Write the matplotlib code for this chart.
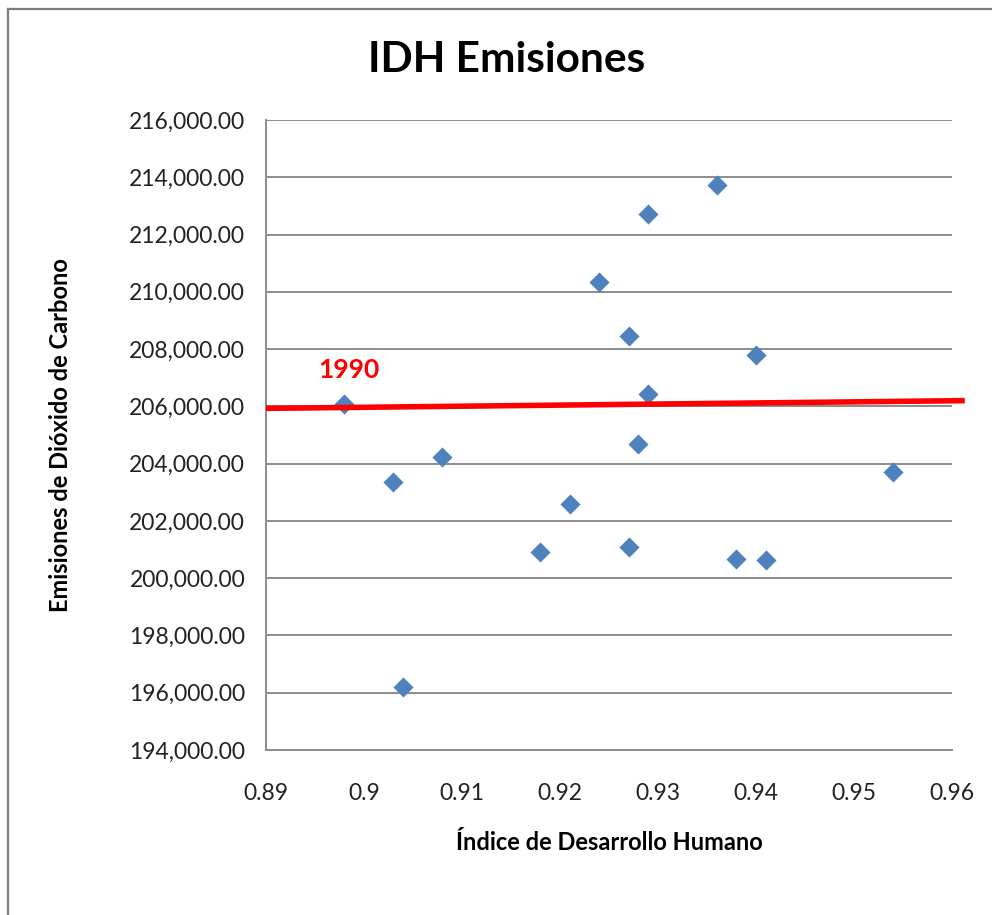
import matplotlib
matplotlib.use("Agg")
import matplotlib.pyplot as plt
from matplotlib.lines import Line2D

plt.rcParams['font.family'] = ['Lato', 'DejaVu Sans']

# --- Data ---
idh = [0.898, 0.903, 0.904, 0.908, 0.918, 0.921, 0.924, 0.927, 0.927,
       0.928, 0.929, 0.929, 0.936, 0.938, 0.940, 0.941, 0.954]
emisiones = [206080, 203360, 196200, 204230, 200910, 202590, 210330, 208470, 201090,
             204680, 212720, 206420, 213720, 200670, 207790, 200640, 203700]

x_ticks = [0.89, 0.90, 0.91, 0.92, 0.93, 0.94, 0.95, 0.96]
x_tick_labels = ['0.89', '0.9', '0.91', '0.92', '0.93', '0.94', '0.95', '0.96']
y_ticks = list(range(194000, 216001, 2000))

# hand-drawn red line in the original
line_x = [0.890, 0.9613]
line_y = [205930, 206200]
line_label = '1990'

# --- Figure ---
W, H = 992, 915
fig = plt.figure(figsize=(W / 100, H / 100), dpi=100)
ax = fig.add_axes([266 / W, 1 - 750 / H, (952 - 266) / W, (750 - 120) / H])

ax.scatter(idh, emisiones, marker='D', s=105, color='#4F81BD', linewidths=0, zorder=3)

ax.plot(line_x, line_y, color='#FF0000', lw=4, clip_on=False, zorder=4,
        solid_capstyle='butt')
ax.text(0.8985, 207270, line_label, color='#FF0000', fontsize=19,
        fontweight='bold', ha='center', va='center')

ax.set_xlim(0.89, 0.96)
ax.set_ylim(194000, 216000)
ax.set_xticks(x_ticks)
ax.set_xticklabels(x_tick_labels)
ax.set_yticks(y_ticks)
ax.set_yticklabels([f'{v:,.2f}' for v in y_ticks])
ax.tick_params(length=0, labelsize=16.5, labelcolor='#222222')
ax.tick_params(axis='y', pad=15)
ax.tick_params(axis='x', pad=24)

ax.grid(axis='y', color='#8C8C8C', lw=1.4)
ax.set_axisbelow(True)
for side in ['top', 'right']:
    ax.spines[side].set_visible(False)
for side in ['left', 'bottom']:
    ax.spines[side].set_color('#8C8C8C')
    ax.spines[side].set_linewidth(1.4)

fig.text(507 / W, 1 - 60 / H, 'IDH Emisiones', fontsize=30.5, fontweight='bold',
         ha='center', va='center')
fig.text(609 / W, 1 - 843 / H, 'Índice de Desarrollo Humano', fontsize=17,
         fontweight='bold', ha='center', va='center')
fig.text(61 / W, 1 - 435 / H, 'Emisiones de Dióxido de Carbono', fontsize=17,
         fontweight='bold', ha='center', va='center', rotation=90)

# chart border (cropped at right and bottom)
fig.add_artist(Line2D([8 / W, 8 / W], [0, 1 - 9 / H], color='#7F7F7F', lw=1.6,
                      transform=fig.transFigure))
fig.add_artist(Line2D([8 / W, 1], [1 - 9 / H, 1 - 9 / H], color='#7F7F7F', lw=1.6,
                      transform=fig.transFigure))

fig.savefig('out.png', dpi=100, facecolor='white')
